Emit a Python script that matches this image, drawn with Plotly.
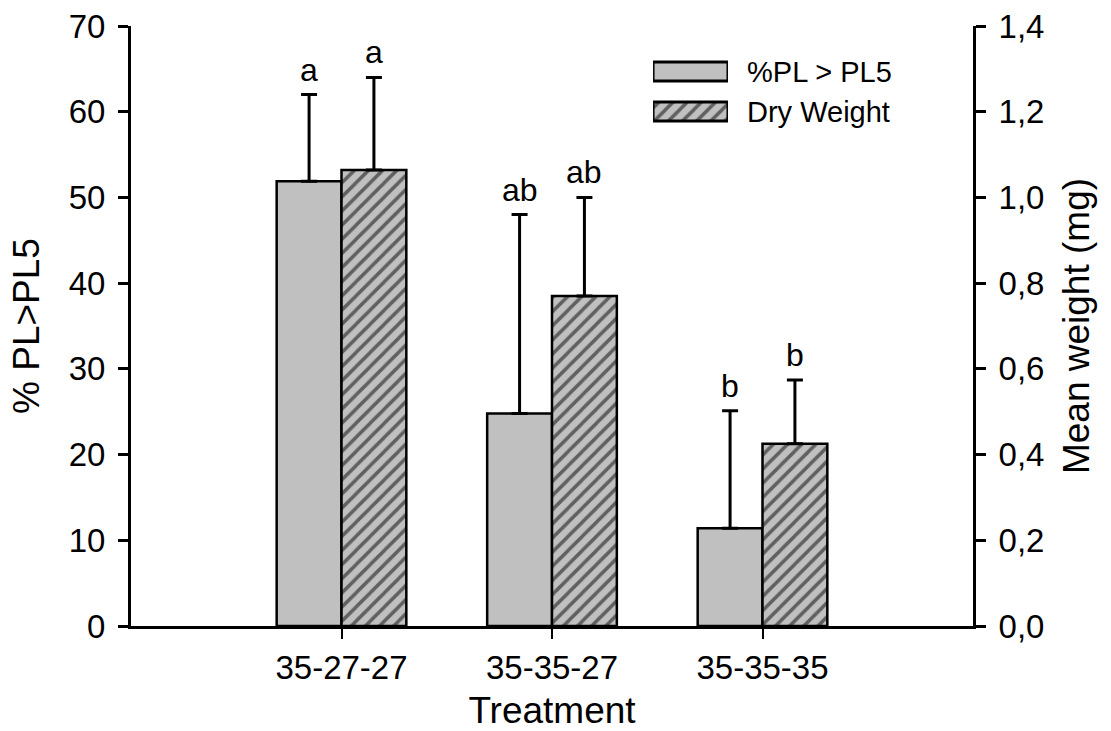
import plotly.graph_objects as go

# ---- data ----
categories = ["35-27-27", "35-35-27", "35-35-35"]
pl_pct = [51.9, 24.8, 11.4]          # % PL > PL5 (left axis)
pl_err = [10.1, 23.2, 13.7]          # upper error (%)
dry_mg = [1.064, 0.770, 0.425]       # dry weight (mg, right axis)
dry_err = [0.216, 0.230, 0.149]      # upper error (mg)
letters_pl = ["a", "ab", "b"]
letters_dw = ["a", "ab", "b"]
series_names = ["%PL > PL5", "Dry Weight"]

GRAY = "#c0c0c0"
FONT = "Liberation Sans, Arial, Helvetica, sans-serif"
BW = 0.308  # bar width in category units
HATCH = dict(shape="/", fgcolor="black", bgcolor=GRAY, size=10, solidity=0.35)

fig = go.Figure()

fig.add_trace(go.Bar(
    x=categories, y=pl_pct, name=series_names[0], yaxis="y",
    width=BW, offset=-BW,
    marker=dict(color=GRAY, line=dict(color="black", width=2.5)),
    error_y=dict(type="data", array=pl_err, arrayminus=[0] * len(pl_err),
                 symmetric=False, color="black", thickness=3, width=8),
))
fig.add_trace(go.Bar(
    x=categories, y=dry_mg, name=series_names[1], yaxis="y2",
    width=BW, offset=0,
    marker=dict(color=GRAY, line=dict(color="black", width=2.5), pattern=HATCH),
    error_y=dict(type="data", array=dry_err, arrayminus=[0] * len(dry_err),
                 symmetric=False, color="black", thickness=3, width=8),
))

# ---- custom legend swatches (mini subplot) ----
fig.add_trace(go.Bar(
    x=[1], y=[0], base=0, orientation="h", width=0.475,
    xaxis="x3", yaxis="y3", cliponaxis=False, showlegend=False, hoverinfo="skip",
    marker=dict(color=GRAY, line=dict(color="black", width=3)),
))
fig.add_trace(go.Bar(
    x=[1], y=[1], base=0, orientation="h", width=0.475,
    xaxis="x3", yaxis="y3", cliponaxis=False, showlegend=False, hoverinfo="skip",
    marker=dict(color=GRAY, line=dict(color="black", width=3), pattern=HATCH),
))

annotations = []
for i, name in enumerate(series_names):
    annotations.append(dict(
        xref="paper", yref="paper", x=0.729, y=[0.923, 0.857][i],
        xanchor="left", yanchor="middle", text=name, showarrow=False,
        font=dict(size=29, family=FONT, color="black")))

# significance letters
for i in range(len(categories)):
    annotations.append(dict(
        x=i - BW / 2, y=pl_pct[i] + pl_err[i], xref="x", yref="y",
        text=letters_pl[i], showarrow=False, xanchor="center", yanchor="bottom",
        yshift=5, font=dict(size=32, family=FONT, color="black")))
    annotations.append(dict(
        x=i + BW / 2, y=dry_mg[i] + dry_err[i], xref="x", yref="y2",
        text=letters_dw[i], showarrow=False, xanchor="center", yanchor="bottom",
        yshift=5, font=dict(size=32, family=FONT, color="black")))

axis_common = dict(showline=True, linecolor="black", linewidth=3, showgrid=False,
                   zeroline=False, ticks="outside", tickcolor="black", automargin=False,
                   tickfont=dict(size=33, family=FONT, color="black"))

fig.update_layout(
    width=1111, height=731,
    margin=dict(l=131, r=138, t=26, b=105),
    plot_bgcolor="white", paper_bgcolor="white",
    font=dict(family=FONT, color="black"),
    separators=",.",
    showlegend=False,
    bargap=0.38,
    xaxis=dict(type="category", range=[-1, 3], ticklen=10, tickwidth=1.5,
               title=dict(text="Treatment", font=dict(size=37, family=FONT), standoff=24),
               **axis_common),
    yaxis=dict(range=[0, 70], dtick=10, ticklen=10, tickwidth=3, ticklabelstandoff=6,
               title=dict(text="% PL>PL5", font=dict(size=37, family=FONT), standoff=18),
               **axis_common),
    yaxis2=dict(range=[0, 1.4], dtick=0.2, tickformat=".1f", overlaying="y",
                side="right", ticklen=10, tickwidth=3, ticklabelstandoff=6,
                title=dict(text="Mean weight (mg)", font=dict(size=37, family=FONT), standoff=20),
                **axis_common),
    xaxis3=dict(domain=[0.620, 0.709], anchor="y3", range=[0, 1], visible=False,
                fixedrange=True),
    yaxis3=dict(domain=[0.8242, 0.9575], anchor="x3", range=[1.5, -0.5], visible=False,
                fixedrange=True),
    annotations=annotations,
)

fig.write_html("out.html")
